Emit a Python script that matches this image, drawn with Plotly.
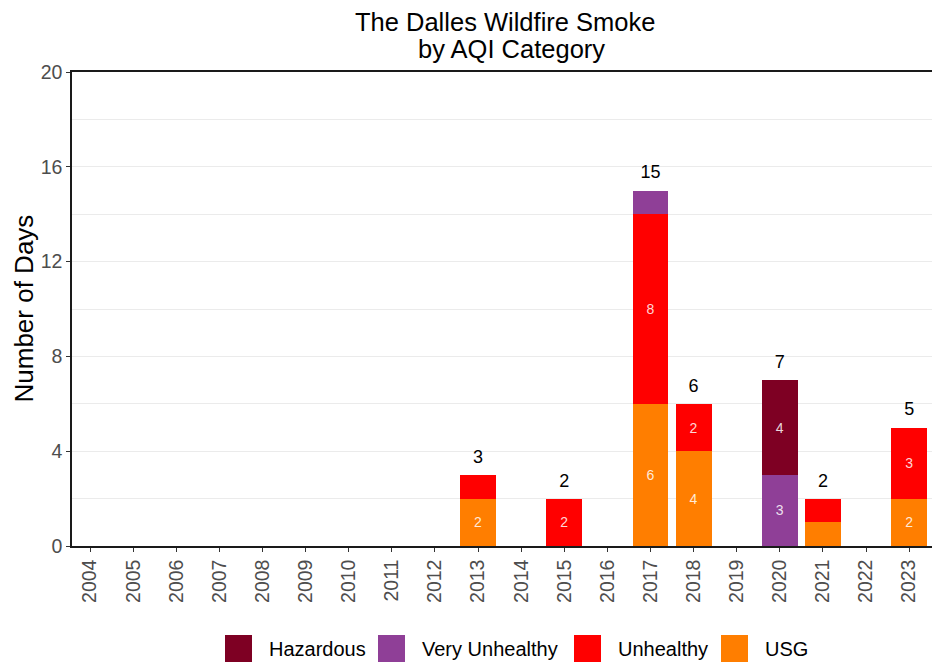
import plotly.graph_objects as go

years = [str(y) for y in range(2004, 2024)]
usg = [0, 0, 0, 0, 0, 0, 0, 0, 0, 2, 0, 0, 0, 6, 4, 0, 0, 1, 0, 2]
unhealthy = [0, 0, 0, 0, 0, 0, 0, 0, 0, 1, 0, 2, 0, 8, 2, 0, 0, 1, 0, 3]
very_unhealthy = [0, 0, 0, 0, 0, 0, 0, 0, 0, 0, 0, 0, 0, 1, 0, 0, 3, 0, 0, 0]
hazardous = [0, 0, 0, 0, 0, 0, 0, 0, 0, 0, 0, 0, 0, 0, 0, 0, 4, 0, 0, 0]

series = [
    ("USG", usg, "#FF7E00"),
    ("Unhealthy", unhealthy, "#FF0000"),
    ("Very Unhealthy", very_unhealthy, "#8F3F97"),
    ("Hazardous", hazardous, "#7E0023"),
]
legend_order = ["Hazardous", "Very Unhealthy", "Unhealthy", "USG"]
colors = {n: c for n, _, c in series}

totals = [a + b + c + d for a, b, c, d in zip(usg, unhealthy, very_unhealthy, hazardous)]

FONT = "Liberation Sans"

fig = go.Figure()
for name, vals, col in series:
    fig.add_trace(go.Bar(
        x=years, y=vals, name=name, marker=dict(color=col, line=dict(width=0)),
        width=0.83,
        text=[str(v) if v >= 2 else "" for v in vals],
        textposition="inside", insidetextanchor="middle",
        textfont=dict(size=14, color="rgba(255,255,255,0.85)", family=FONT),
        constraintext="none", textangle=0, showlegend=False,
    ))

tx = [y for y, t in zip(years, totals) if t > 0]
ty = [t + 0.7 for t in totals if t > 0]
tt = [str(t) for t in totals if t > 0]
fig.add_trace(go.Scatter(x=tx, y=ty, text=tt, mode="text", textposition="middle center",
                         textfont=dict(size=18, color="black", family=FONT),
                         showlegend=False, hoverinfo="skip"))

L, R, T, B = 72, 1, 72, 119
W, H = 933, 665
pw, ph = W - L - R, H - T - B

def px(x):
    return (x - L) / pw

def py(y):
    return (H - B - y) / ph

annotations = [
    dict(text="The Dalles Wildfire Smoke", x=px(504.5), y=py(22), xref="paper", yref="paper",
         showarrow=False, font=dict(size=25.5, color="black", family=FONT),
         xanchor="center", yanchor="middle"),
    dict(text="by AQI Category", x=px(511), y=py(49.5), xref="paper", yref="paper",
         showarrow=False, font=dict(size=25.5, color="black", family=FONT),
         xanchor="center", yanchor="middle"),
    dict(text="Number of Days", x=px(23), y=py(308.5), xref="paper", yref="paper",
         showarrow=False, textangle=-90, font=dict(size=26, color="black", family=FONT),
         xanchor="center", yanchor="middle"),
]
shapes = []
leg_sq = {"Hazardous": 225, "Very Unhealthy": 378, "Unhealthy": 574, "USG": 721}
for name in legend_order:
    x0 = leg_sq[name]
    shapes.append(dict(type="rect", xref="paper", yref="paper",
                       x0=px(x0), x1=px(x0 + 27), y0=py(662), y1=py(635),
                       fillcolor=colors[name], line=dict(width=0)))
    annotations.append(dict(text=name, x=px(x0 + 42), y=py(649), xref="paper", yref="paper",
                            showarrow=False, xanchor="left", yanchor="middle",
                            font=dict(size=20, color="black", family=FONT)))

fig.update_layout(
    barmode="stack",
    width=W, height=H,
    margin=dict(l=L, r=R, t=T, b=B, autoexpand=False),
    plot_bgcolor="white", paper_bgcolor="white",
    font=dict(family=FONT, color="#4D4D4D"),
    annotations=annotations, shapes=shapes,
    xaxis=dict(type="category", range=[-0.42, 19.53], tickangle=-90, automargin=False,
               tickfont=dict(size=19.5, color="#4D4D4D"),
               showline=True, linecolor="#1a1a1a", linewidth=1.5, mirror=True,
               ticks="outside", ticklen=4, tickcolor="#333333", showgrid=False),
    yaxis=dict(range=[0, 20], tickvals=[0, 4, 8, 12, 16, 20], automargin=False,
               tickfont=dict(size=19.5, color="#4D4D4D"),
               showline=True, linecolor="#1a1a1a", linewidth=1.5,
               ticks="outside", ticklen=4, tickcolor="#333333",
               showgrid=True, gridcolor="#EBEBEB", gridwidth=1,
               minor=dict(tickvals=[2, 6, 10, 14, 18], showgrid=True, gridcolor="#EBEBEB", ticks=""),
               zeroline=False),
)

fig.write_html("out.html", config={"displayModeBar": False},
               post_script="document.body.style.margin='0';document.body.style.padding='0';")
